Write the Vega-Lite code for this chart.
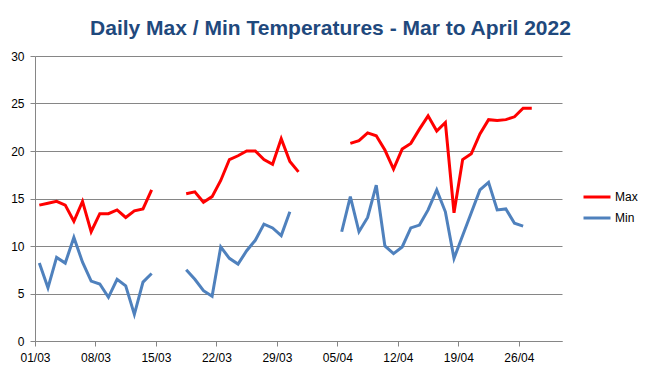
{
  "$schema": "https://vega.github.io/schema/vega-lite/v6.json",
  "width": 527,
  "height": 285,
  "autosize": {"type": "none"},
  "padding": {"left": 35, "top": 56, "right": 87, "bottom": 34},
  "background": "white",
  "title": {
    "text": "Daily Max / Min Temperatures - Mar to April 2022",
    "font": "Liberation Sans",
    "fontSize": 21,
    "fontWeight": "bold",
    "color": "#1F497D",
    "anchor": "middle",
    "baseline": "alphabetic",
    "dx": 32,
    "offset": -6
  },
  "data": {
    "values": [
      {"date": "2022-03-01", "Max": 14.3, "Min": 8.2},
      {"date": "2022-03-02", "Max": 14.5, "Min": 5.6},
      {"date": "2022-03-03", "Max": 14.7, "Min": 8.8},
      {"date": "2022-03-04", "Max": 14.3, "Min": 8.2},
      {"date": "2022-03-05", "Max": 12.6, "Min": 10.9},
      {"date": "2022-03-06", "Max": 14.7, "Min": 8.3},
      {"date": "2022-03-07", "Max": 11.5, "Min": 6.3},
      {"date": "2022-03-08", "Max": 13.4, "Min": 6.0},
      {"date": "2022-03-09", "Max": 13.4, "Min": 4.6},
      {"date": "2022-03-10", "Max": 13.8, "Min": 6.5},
      {"date": "2022-03-11", "Max": 13.0, "Min": 5.8},
      {"date": "2022-03-12", "Max": 13.7, "Min": 2.8},
      {"date": "2022-03-13", "Max": 13.9, "Min": 6.2},
      {"date": "2022-03-14", "Max": 15.9, "Min": 7.1},
      {"date": "2022-03-15", "Max": null, "Min": null},
      {"date": "2022-03-16", "Max": null, "Min": null},
      {"date": "2022-03-17", "Max": null, "Min": null},
      {"date": "2022-03-18", "Max": 15.5, "Min": 7.5},
      {"date": "2022-03-19", "Max": 15.7, "Min": 6.5},
      {"date": "2022-03-20", "Max": 14.6, "Min": 5.3},
      {"date": "2022-03-21", "Max": 15.2, "Min": 4.7},
      {"date": "2022-03-22", "Max": 16.9, "Min": 9.9},
      {"date": "2022-03-23", "Max": 19.1, "Min": 8.7},
      {"date": "2022-03-24", "Max": 19.5, "Min": 8.1},
      {"date": "2022-03-25", "Max": 20.0, "Min": 9.5},
      {"date": "2022-03-26", "Max": 20.0, "Min": 10.6},
      {"date": "2022-03-27", "Max": 19.1, "Min": 12.3},
      {"date": "2022-03-28", "Max": 18.6, "Min": 11.9},
      {"date": "2022-03-29", "Max": 21.3, "Min": 11.1},
      {"date": "2022-03-30", "Max": 18.9, "Min": 13.6},
      {"date": "2022-03-31", "Max": 17.8, "Min": null},
      {"date": "2022-04-01", "Max": null, "Min": null},
      {"date": "2022-04-02", "Max": null, "Min": null},
      {"date": "2022-04-03", "Max": null, "Min": null},
      {"date": "2022-04-04", "Max": null, "Min": null},
      {"date": "2022-04-05", "Max": null, "Min": 11.5},
      {"date": "2022-04-06", "Max": 20.8, "Min": 15.2},
      {"date": "2022-04-07", "Max": 21.1, "Min": 11.5},
      {"date": "2022-04-08", "Max": 21.9, "Min": 13.0},
      {"date": "2022-04-09", "Max": 21.6, "Min": 16.4},
      {"date": "2022-04-10", "Max": 20.1, "Min": 10.0},
      {"date": "2022-04-11", "Max": 18.1, "Min": 9.2},
      {"date": "2022-04-12", "Max": 20.2, "Min": 9.9},
      {"date": "2022-04-13", "Max": 20.8, "Min": 11.9},
      {"date": "2022-04-14", "Max": 22.3, "Min": 12.2},
      {"date": "2022-04-15", "Max": 23.7, "Min": 13.8},
      {"date": "2022-04-16", "Max": 22.1, "Min": 15.9},
      {"date": "2022-04-17", "Max": 23.0, "Min": 13.6},
      {"date": "2022-04-18", "Max": 13.5, "Min": 8.7},
      {"date": "2022-04-19", "Max": 19.1, "Min": 11.1},
      {"date": "2022-04-20", "Max": 19.7, "Min": 13.5},
      {"date": "2022-04-21", "Max": 21.8, "Min": 15.9},
      {"date": "2022-04-22", "Max": 23.3, "Min": 16.7},
      {"date": "2022-04-23", "Max": 23.2, "Min": 13.8},
      {"date": "2022-04-24", "Max": 23.3, "Min": 13.9},
      {"date": "2022-04-25", "Max": 23.6, "Min": 12.4},
      {"date": "2022-04-26", "Max": 24.5, "Min": 12.1},
      {"date": "2022-04-27", "Max": 24.5, "Min": null}
    ]
  },
  "transform": [{"fold": ["Max", "Min"], "as": ["series", "temp"]}],
  "mark": {"type": "line", "strokeWidth": 3, "invalid": "break-paths-filter-domains"},
  "encoding": {
    "x": {
      "field": "date",
      "type": "temporal",
      "scale": {
        "type": "utc",
        "domain": [
          {"year": 2022, "month": 2, "date": 28, "hours": 12, "utc": true},
          {"year": 2022, "month": 4, "date": 30, "hours": 12, "utc": true}
        ]
      },
      "axis": {
        "title": null,
        "grid": false,
        "values": [
          {"year": 2022, "month": 2, "date": 28, "hours": 12, "utc": true},
          {"year": 2022, "month": 3, "date": 7, "hours": 12, "utc": true},
          {"year": 2022, "month": 3, "date": 14, "hours": 12, "utc": true},
          {"year": 2022, "month": 3, "date": 21, "hours": 12, "utc": true},
          {"year": 2022, "month": 3, "date": 28, "hours": 12, "utc": true},
          {"year": 2022, "month": 4, "date": 4, "hours": 12, "utc": true},
          {"year": 2022, "month": 4, "date": 11, "hours": 12, "utc": true},
          {"year": 2022, "month": 4, "date": 18, "hours": 12, "utc": true},
          {"year": 2022, "month": 4, "date": 25, "hours": 12, "utc": true}
        ],
        "labelExpr": "utcFormat(toNumber(datum.value) + 43200000, '%d/%m')",
        "labelPadding": 6,
        "labelFlush": false,
        "labelOverlap": false
      }
    },
    "y": {
      "field": "temp",
      "type": "quantitative",
      "scale": {"domain": [0, 30], "nice": false, "zero": true},
      "axis": {"title": null, "values": [0, 5, 10, 15, 20, 25, 30], "labelPadding": 6, "grid": true}
    },
    "color": {
      "field": "series",
      "type": "nominal",
      "scale": {"domain": ["Max", "Min"], "range": ["#FF0000", "#4F81BD"]},
      "legend": {
        "title": null,
        "orient": "none",
        "legendX": 547,
        "legendY": 126,
        "symbolType": "stroke",
        "symbolSize": 729,
        "symbolStrokeWidth": 3,
        "labelOffset": 3,
        "rowPadding": -1,
        "padding": 0,
        "labelFont": "Liberation Sans",
        "labelFontSize": 12,
        "labelColor": "#000000"
      }
    }
  },
  "config": {
    "view": {"stroke": null},
    "axis": {
      "domainColor": "#868686",
      "tickColor": "#868686",
      "gridColor": "#868686",
      "gridOpacity": 1,
      "tickSize": 5,
      "labelFont": "Liberation Sans",
      "labelFontSize": 12,
      "labelColor": "#000000"
    }
  }
}
